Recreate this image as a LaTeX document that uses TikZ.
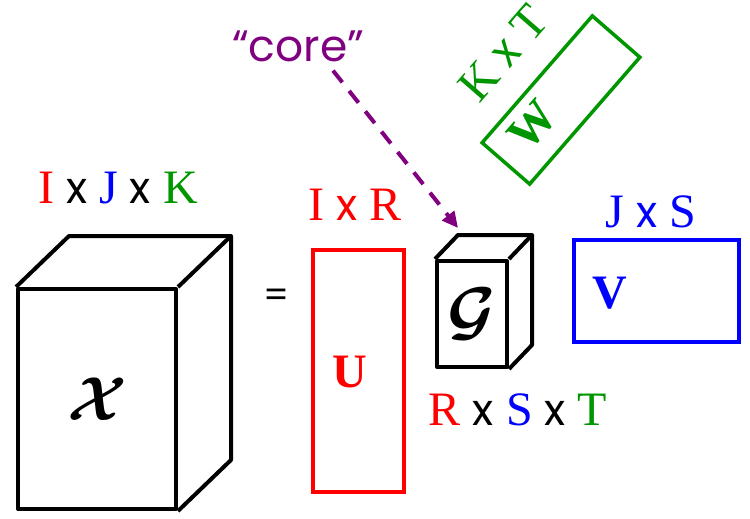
\documentclass[tikz,border=0pt]{standalone}
\usepackage{fontspec}
\setmainfont{Liberation Serif}
\newfontfamily\comicfont{Poppins}
\usepackage{bm}
\usetikzlibrary{arrows.meta,calc}

\begin{document}
\begin{tikzpicture}[x=1pt,y=1pt,font=\fontsize{48}{56}\selectfont,
        cubeline/.style={draw=black,line width=4pt,line join=round},
        matbox/.style={draw,line width=3.5pt,inner sep=0pt},
        dimlabel/.style={inner sep=0pt,anchor=base},
        matname/.style={inner sep=0pt,font=\fontsize{48}{56}\selectfont\bfseries}]

    \definecolor{cred}{RGB}{255,0,0}
    \definecolor{cblue}{RGB}{0,0,255}
    \definecolor{cgreen}{RGB}{0,150,0}
    \definecolor{cpurple}{RGB}{128,0,128}

    \newcommand{\tx}{{\comicfont\fontsize{44}{50}\selectfont x}}
    \newcommand{\cubeback}[3]{%
        \draw[cubeline] (#1.north west) -- ++(#2,#3) -- ($(#1.north east)+(#2,#3)$)
            -- ($(#1.south east)+(#2,#3)$) -- (#1.south east);
        \draw[cubeline] (#1.north east) -- ++(#2,#3);
    }

    \useasboundingbox (0,0) rectangle (750,-519);

    % tensor X
    \node[cubeline,minimum width=158pt,minimum height=220pt,inner sep=0pt] (X) at (97,-399)
        {\fontsize{10}{12}\selectfont\scalebox{6.2}{$\bm{\mathcal{X}}$}};
    \cubeback{X}{53}{51}
    \node[dimlabel] (Xdim) at (118,-203)
        {\textcolor{cred}{I} \tx{} \textcolor{cblue}{J} \tx{} \textcolor{cgreen}{K}};

    \node[inner sep=0pt] (eq) at (277,-298) {\comicfont\fontsize{36}{40}\selectfont =};

    % factor U
    \node[matbox,draw=cred,minimum width=91pt,minimum height=242pt] (U) at (358.5,-371) {};
    \node[matname,cred] (Ulab) at (350,-372) {U};
    \node[dimlabel,cred] (Udim) at (355,-220) {I \tx{} R};

    % core G
    \node[cubeline,minimum width=70pt,minimum height=106pt,inner sep=0pt] (G) at (472,-314)
        {\fontsize{10}{12}\selectfont\scalebox{6.6}{$\bm{\mathcal{G}}$}};
    \cubeback{G}{23}{24}
    \node[dimlabel] (Gdim) at (518,-425)
        {\textcolor{cred}{R} \tx{} \textcolor{cblue}{S} \tx{} \textcolor{cgreen}{T}};

    % factor V
    \node[matbox,draw=cblue,minimum width=165pt,minimum height=102pt] (V) at (656.5,-291) {};
    \node[matname,cblue] (Vlab) at (610,-293) {V};
    \node[dimlabel,cblue] (Vdim) at (651,-227) {J \tx{} S};

    % factor W
    \node[matbox,draw=cgreen,minimum width=168pt,minimum height=63pt,rotate=49] (W) at (561,-100) {};
    \node[matname,cgreen,rotate=49] (Wlab) at (533,-125) {W};
    \node[inner sep=0pt,cgreen,rotate=49] (Wdim) at (503,-53) {K \tx{} T};

    \node[dimlabel,cpurple] (core) at (298,-62) {\comicfont\fontsize{44}{50}\selectfont “core”};
    \draw[cpurple,line width=4pt,dash pattern=on 15pt off 11pt,-{Triangle[length=16pt,width=15pt]}]
        ([xshift=35pt,yshift=-8pt]core.south) -- ($(G.north west)+(23,31)$);

\end{tikzpicture}
\end{document}
